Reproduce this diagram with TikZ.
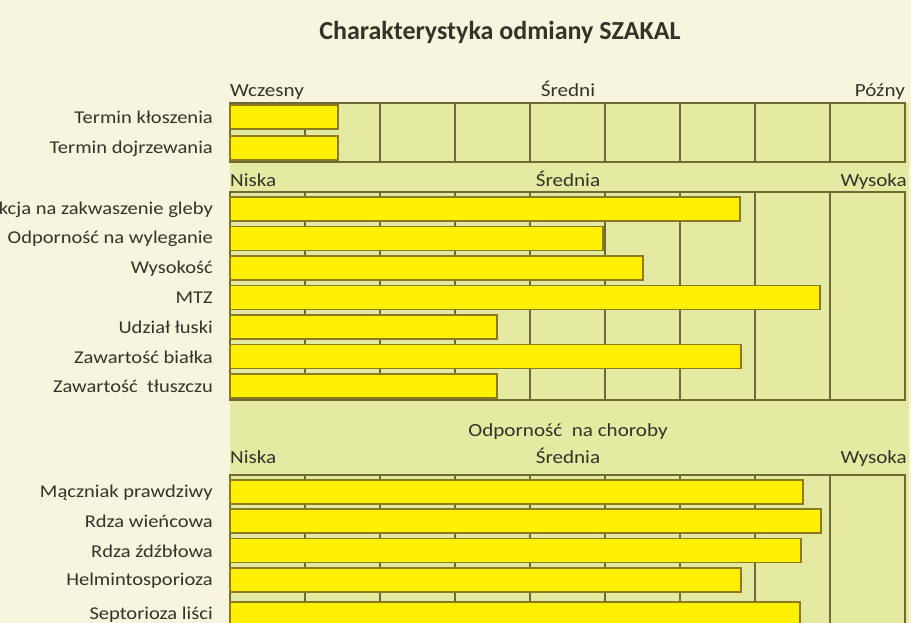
\documentclass[tikz,border=0pt]{standalone}
\usepackage{fontspec}
\setmainfont{Carlito}
\newfontfamily\widefont[FakeStretch=1.14]{Carlito}
\definecolor{cream}{HTML}{F7F5DE}
\definecolor{panel}{HTML}{E4EAA2}
\definecolor{gridc}{HTML}{6E6B35}
\definecolor{barfill}{HTML}{FFF000}
\definecolor{barline}{HTML}{8C7B1E}
\definecolor{txt}{HTML}{333328}
\tikzset{
  gridline/.style={draw=gridc, line width=1.3pt},
  barbox/.style={fill=barfill, draw=barline, line width=1.2pt},
  rowlabel/.style={anchor=east, inner sep=0pt, text=txt, font=\widefont\fontsize{18}{20}\selectfont},
  headlabel/.style={inner sep=0pt, text=txt, font=\widefont\fontsize{18.5}{20}\selectfont},
  titlelabel/.style={inner sep=0pt, text=txt, font=\fontsize{26}{30}\selectfont\bfseries}
}
\begin{document}
\begin{tikzpicture}[x=1pt,y=-1pt]
\useasboundingbox (0,0) rectangle (911,623);
\begin{scope}
\clip (0,0) rectangle (911,623);
\fill[cream] (0,0) rectangle (911,623);
\fill[panel] (230,103) rectangle (909,623);
\node[titlelabel] (title) at (500,32) {Charakterystyka odmiany SZAKAL};
% section 1
\node[headlabel, anchor=base west] (h1a) at (230,97) {Wczesny};
\node[headlabel, anchor=base] (h1b) at (568,97) {Średni};
\node[headlabel, anchor=base east] (h1c) at (905,97) {Późny};
\draw[gridline] (230,103) rectangle (905,162);
\foreach \x in {305,380,455,530,605,680,755,830} \draw[gridline] (\x,103) -- (\x,162);
\foreach \t/\e/\lab [count=\i] in {105/338/Termin kłoszenia, 136/338/Termin dojrzewania} {
  \draw[barbox] (230,\t) rectangle (\e,\t+24);
  \node[rowlabel] (l1\i) at (213,\t+12.5) {\lab};
}
% section 2
\node[headlabel, anchor=base west] (h2a) at (230,187) {Niska};
\node[headlabel, anchor=base] (h2b) at (568,187) {Średnia};
\node[headlabel, anchor=base east] (h2c) at (907,187) {Wysoka};
\draw[gridline] (230,192) rectangle (905,400);
\foreach \x in {305,380,455,530,605,680,755,830} \draw[gridline] (\x,192) -- (\x,400);
\foreach \t/\e/\lab [count=\i] in {197/740/Reakcja na zakwaszenie gleby, 226.5/603/Odporność na wyleganie, 256/643/Wysokość, 285.5/820/MTZ, 315/497/Udział łuski, 344.5/741/Zawartość białka, 374/497/Zawartość\ \ tłuszczu} {
  \draw[barbox] (230,\t) rectangle (\e,\t+24);
  \node[rowlabel] (l2\i) at (213,\t+12.5) {\lab};
}
% section 3
\node[headlabel, anchor=base] (h3t) at (568,436) {Odporność\ \ na choroby};
\node[headlabel, anchor=base west] (h3a) at (230,463) {Niska};
\node[headlabel, anchor=base] (h3b) at (568,463) {Średnia};
\node[headlabel, anchor=base east] (h3c) at (907,463) {Wysoka};
\draw[gridline] (230,475) rectangle (905,660);
\foreach \x in {305,380,455,530,605,680,755,830} \draw[gridline] (\x,475) -- (\x,660);
\foreach \t/\e/\lab [count=\i] in {480/803/Mączniak prawdziwy, 509/821/Rdza wieńcowa, 538.5/801/Rdza źdźbłowa, 568/741/Helmintosporioza, 602/800/Septorioza liści} {
  \draw[barbox] (230,\t) rectangle (\e,\t+24);
  \node[rowlabel] (l3\i) at (213,\t+12.5) {\lab};
}
\end{scope}
\end{tikzpicture}
\end{document}
